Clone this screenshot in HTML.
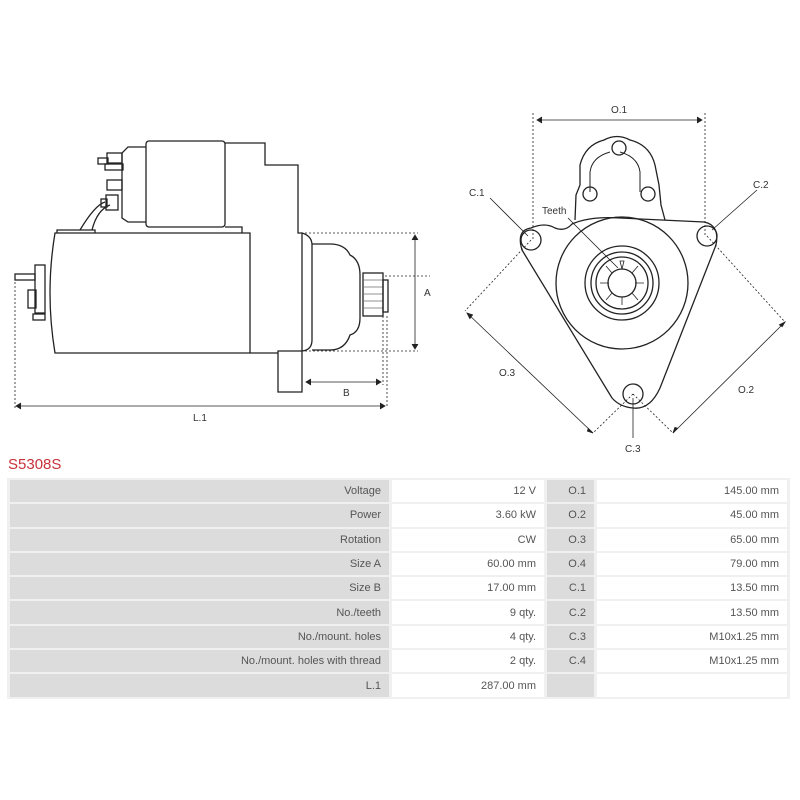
<!DOCTYPE html>
<html><head><meta charset="utf-8"><style>
body{margin:0;width:800px;height:800px;background:#fff;font-family:"Liberation Sans",sans-serif;position:relative;overflow:hidden}
svg{position:absolute;left:0;top:0}
.t{position:absolute;left:7px;top:478px;border-collapse:separate;border-spacing:3px 2px;background:#f0f0f0}
.t td{height:22.3px;padding:0 8px;font-size:11px;color:#555;text-align:right;white-space:nowrap}
.g{background:#dcdcdc}.w{background:#fff}
h1{position:absolute;left:8px;top:456px;margin:0;font-size:15px;font-weight:normal;color:#c8323a}
</style></head><body>
<svg width="800" height="460" viewBox="0 0 800 460" fill="none" stroke="#222" stroke-width="1.3" font-family="Liberation Sans" font-size="10">
<path d="M55,233 L250,233 L250,353 L55,353 Q45,293 55,233Z"/>
<path d="M57,233 L57,230 L95,230 L95,233"/>
<path d="M80,230 Q95,205 105,202 M92,230 Q97,210 110,205"/>
<rect x="146" y="141" width="79" height="86" rx="3"/>
<path d="M146,147 L128,147 L122,153 L122,218 L128,222 L146,222"/>
<rect x="107" y="153" width="15" height="10"/><rect x="98" y="158" width="10" height="6"/>
<rect x="107" y="180" width="15" height="10"/>
<rect x="106" y="195" width="12" height="15"/><rect x="101" y="199" width="6" height="8"/>
<rect x="105" y="164" width="18" height="6"/>
<path d="M225,143 L265,143 L265,165 L298,165 L298,233 L302,233 L302,351 L278,351 L278,392 L302,392 L302,351"/>
<path d="M225,227 L242,227 L242,233"/>
<path d="M250,353 L278,353"/>
<path d="M302,233 Q312,236 312,245 L312,340 Q312,350 302,351"/>
<path d="M312,244 L330,244 Q345,244 350,255 Q360,260 360,275 L360,318 Q360,332 350,335 Q345,350 330,350 L312,350"/>
<rect x="363" y="273" width="20" height="43"/><rect x="383" y="280" width="5" height="32"/>
<path d="M364,280 H383 M364,287 H383 M364,294 H383 M364,301 H383 M364,308 H383" stroke-width="0.6"/>
<rect x="35" y="265" width="10" height="48"/><rect x="28" y="290" width="8" height="18"/>
<rect x="15" y="274" width="20" height="6"/><rect x="33" y="314" width="12" height="6"/>
<g stroke-dasharray="2,2" stroke-width="0.8">
<path d="M305,233 H418 M305,351 H418 M15,278 V408 M387,316 V408 M383,316 V385 M385,276 H430"/>
</g>
<g stroke-width="0.8"><path d="M415,235 V349 M306,382 H381 M16,406 H385"/>
<path d="M412,240 L415,235 L418,240 M412,344 L415,349 L418,344 M311,379 L306,382 L311,385 M376,379 L381,382 L376,385 M21,403 L16,406 L21,409 M380,403 L385,406 L380,409" fill="#222"/></g>
<g fill="#333" stroke="none" font-size="10"><text x="424" y="296">A</text><text x="343" y="396">B</text><text x="193" y="421">L.1</text></g>
<path d="M531,228 Q545,222 555,228 Q565,232 572,224 Q590,216 620,218 L704,222 Q720,225 716,245 L660,388 Q650,410 633,408 Q620,407 612,398 L522,250 Q516,230 531,228Z"/>
<path d="M575,220 L576,195 L580,185 L580,165 Q585,145 604,140 Q617,133 630,140 Q650,145 655,165 L659,185 L661,205 L665,220"/>
<path d="M590,192 V172 Q592,157 610,152 M640,192 V172 Q638,157 620,152" stroke-width="1"/>
<circle cx="619" cy="148" r="7"/><circle cx="590" cy="194" r="7"/><circle cx="648" cy="194" r="7"/>
<circle cx="531" cy="240" r="10"/><circle cx="707" cy="236" r="10"/><circle cx="633" cy="394" r="10"/>
<circle cx="622" cy="283" r="66"/><circle cx="622" cy="283" r="37"/><circle cx="622" cy="283" r="31"/><circle cx="622" cy="283" r="26"/><circle cx="622" cy="283" r="14"/>
<g stroke-width="0.8"><path d="M622,269 L620,261 L624,261Z M632,273 L638,266 M635,283 L644,283 M632,293 L638,300 M622,297 L622,305 M612,293 L606,300 M609,283 L600,283 M612,273 L606,266"/></g>
<g stroke-dasharray="2,2" stroke-width="0.8"><path d="M533,113 V240 M705,113 V235 M531,240 L465,311 M707,236 L785,322 M633,394 L593,433 M633,394 L673,433"/></g>
<g stroke-width="0.8"><path d="M537,120 H702 M467,313 L593,433 M785,322 L673,433 M490,198 L528,236 M757,190 L712,230 M568,218 L618,268 M633,398 V438"/>
<path d="M542,117 L537,120 L542,123 M697,117 L702,120 L697,123 M470,319 L467,313 L473,315 M588,428 L593,433 L587,431 M779,325 L785,322 L782,327 M678,428 L673,433 L675,427" fill="#222"/></g>
<g fill="#333" stroke="none" font-size="10"><text x="611" y="113">O.1</text><text x="469" y="196">C.1</text><text x="753" y="188">C.2</text><text x="542" y="214">Teeth</text><text x="499" y="376">O.3</text><text x="738" y="393">O.2</text><text x="625" y="452">C.3</text></g>
</svg>
<h1>S5308S</h1>
<table class="t">
<tr><td class="g" style="width:363px">Voltage</td><td class="w" style="width:136px">12 V</td><td class="g" style="width:31px">O.1</td><td class="w" style="width:174px">145.00 mm</td></tr>
<tr><td class="g">Power</td><td class="w">3.60 kW</td><td class="g">O.2</td><td class="w">45.00 mm</td></tr>
<tr><td class="g">Rotation</td><td class="w">CW</td><td class="g">O.3</td><td class="w">65.00 mm</td></tr>
<tr><td class="g">Size A</td><td class="w">60.00 mm</td><td class="g">O.4</td><td class="w">79.00 mm</td></tr>
<tr><td class="g">Size B</td><td class="w">17.00 mm</td><td class="g">C.1</td><td class="w">13.50 mm</td></tr>
<tr><td class="g">No./teeth</td><td class="w">9 qty.</td><td class="g">C.2</td><td class="w">13.50 mm</td></tr>
<tr><td class="g">No./mount. holes</td><td class="w">4 qty.</td><td class="g">C.3</td><td class="w">M10x1.25 mm</td></tr>
<tr><td class="g">No./mount. holes with thread</td><td class="w">2 qty.</td><td class="g">C.4</td><td class="w">M10x1.25 mm</td></tr>
<tr><td class="g">L.1</td><td class="w">287.00 mm</td><td class="g"></td><td class="w"></td></tr>
</table>
</body></html>
